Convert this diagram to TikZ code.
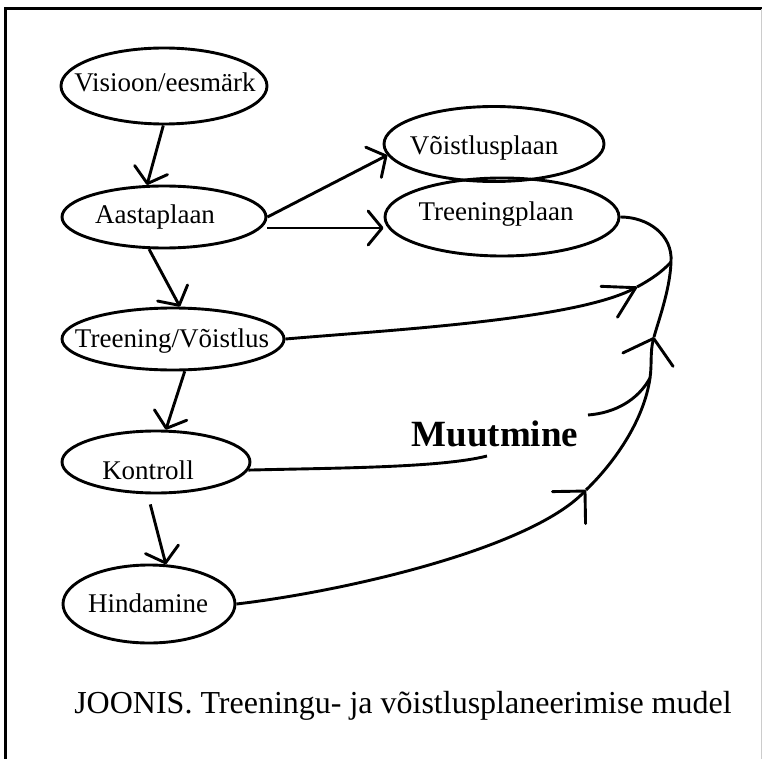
\documentclass[tikz,border=0pt]{standalone}
\usepackage{fontspec}
\setmainfont{Liberation Serif}
\usetikzlibrary{arrows.meta,shapes.geometric}
\begin{document}
\begin{tikzpicture}[x=1pt,y=-1pt,line width=2.9pt,
  oval/.style={draw, ellipse, inner sep=0pt},
  lbl/.style={inner sep=0pt, anchor=base, font=\fontsize{27}{30}\selectfont},
  arr/.style={-{Straight Barb[length=14pt,width=34pt,round]}},
  arrH/.style={-{Straight Barb[length=23pt,width=46pt,round]}},
  arrT/.style={-{Straight Barb[length=30pt,width=35pt,round]}},
  arrU/.style={-{Straight Barb[length=22pt,width=52pt,round]}}]
\useasboundingbox (0,0) rectangle (762,759);
% frame
\draw[line width=3pt] (5,759) -- (5,9) -- (762,9);
\draw[gray!40, line width=1pt] (761,9) -- (761,759);
% ellipses
\node[oval, minimum width=206pt, minimum height=76pt] (vis) at (164,86) {};
\node[oval, minimum width=204pt, minimum height=62pt] (aast) at (164,217) {};
\node[oval, minimum width=222pt, minimum height=62pt] (treen) at (173,339) {};
\node[oval, minimum width=188pt, minimum height=62pt] (kont) at (156,462) {};
\node[oval, minimum width=172pt, minimum height=78pt] (hind) at (149,604) {};
\node[oval, minimum width=220pt, minimum height=75pt] (vois) at (494,144) {};
\node[oval, minimum width=234pt, minimum height=78pt] (tplan) at (502,217) {};
% texts
\node[lbl] (visT) at (165,92) {Visioon/eesmärk};
\node[lbl] (aastT) at (155,223) {Aastaplaan};
\node[lbl] (treenT) at (172,347) {Treening/Võistlus};
\node[lbl] (kontT) at (148,479) {Kontroll};
\node[lbl] (hindT) at (148,612) {Hindamine};
\node[lbl] (voisT) at (484,155) {Võistlusplaan};
\node[lbl] (tplanT) at (496,221) {Treeningplaan};
\node[inner sep=0pt, anchor=base, font=\bfseries\fontsize{37}{40}\selectfont] (muut) at (495,446) {Muutmine};
\node[inner sep=0pt, anchor=base, font=\fontsize{32}{36}\selectfont] (cap) at (403,713) {JOONIS. Treeningu- ja võistlusplaneerimise mudel};
% straight arrows
\draw[arr] (vis.-91) -- (aast.118);
\draw[arr] (aast.east) -- (vois.186);
\coordinate (a3) at ([yshift=-11pt]aast.east);
\draw[arr] (a3) -- (a3 -| tplan.west);
\draw[arr] (aast.245) -- (treen.78);
\draw[arr] (treen.-70) -- (kont.73);
\draw[arr] ([yshift=-10pt]kont.-100) -- (hind.67);
% curves
\coordinate (B1) at (586,490);
\coordinate (M) at (650,378);
\coordinate (B3) at (654,337);
\coordinate (J) at (671,262);
\coordinate (T1) at (637,287);
\coordinate (K1) at (487,456);
\coordinate (K2) at (588,415);
\draw[arrH] (hind.east) .. controls (340,592) and (528,550) .. (B1);
\draw (B1) .. controls (615,462) and (644,420) .. (M);
\draw[arrU] (M) .. controls (652,365) and (650,352) .. (B3);
\draw (B3) .. controls (658,322) and (670,290) .. (J);
\draw (J) .. controls (673,235) and (648,217) .. (tplan.east);
\draw[arrT] (treen.east) .. controls (390,330) and (575,320) .. (T1);
\draw (T1) .. controls (650,280) and (662,272) .. (J);
\draw (kont.-5) .. controls (330,468) and (440,468) .. (K1);
\draw (K2) .. controls (615,413) and (638,400) .. (M);
\end{tikzpicture}
\end{document}
